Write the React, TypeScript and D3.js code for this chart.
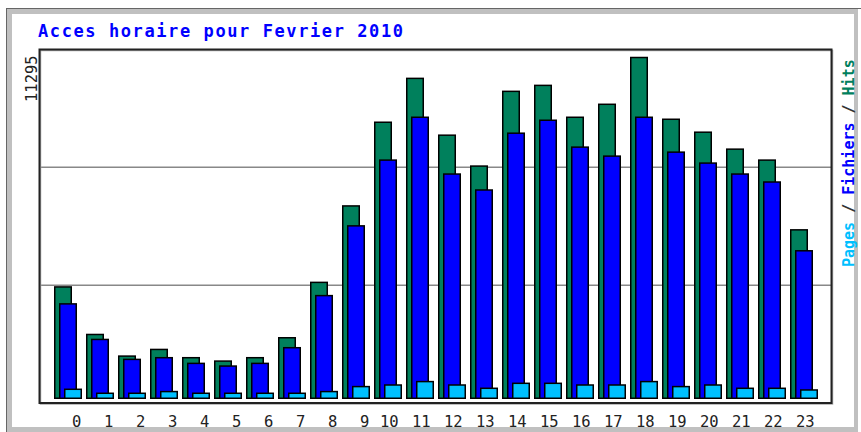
import React from "react";
import { scaleBand, scaleLinear } from "d3";

const hours = Array.from({ length: 24 }, (_, i) => String(i));

// values
const hits = [
  3690, 2114, 1397, 1618, 1344, 1232, 1344, 2005, 3841, 6375, 9149, 10603,
  8720, 7696, 10173, 10371, 9314, 9744, 11295, 9248, 8819, 8257, 7894, 5582,
];
const fichiers = [
  3128, 1949, 1288, 1344, 1156, 1067, 1156, 1675, 3402, 5714, 7894, 9314,
  7432, 6903, 8786, 9215, 8324, 8026, 9314, 8158, 7795, 7432, 7168, 4888,
];
const pages = [
  297, 165, 165, 221, 165, 165, 165, 165, 221, 386, 439, 552,
  439, 330, 495, 495, 439, 439, 552, 386, 439, 330, 330, 274,
];
const maxLabel = "11295";
const title = "Acces horaire pour Fevrier 2010";

const colors = { hits: "#00805c", fichiers: "#0000ff", pages: "#00c0ff" };
const mono = "'DejaVu Sans Mono', monospace";

const App = () => {
  const width = 861;
  const height = 432;
  const plot = { left: 39.5, top: 49.5, right: 831.5, bottom: 403 };

  const x = scaleBand().domain(hours).range([54, 54 + 32 * 24]);
  const y = scaleLinear().domain([0, 11295]).range([398.25, 57.5]);

  const barW = 16.5;
  const series = [
    { key: "hits", data: hits, off: 0 },
    { key: "fichiers", data: fichiers, off: 5 },
    { key: "pages", data: pages, off: 10 },
  ];

  const grid = [1, 2].map((k) => plot.top + ((plot.bottom - plot.top) * k) / 3);

  return (
    <div style={{ position: "fixed", left: 0, top: 0 }}>
      <svg width={width} height={height} style={{ display: "block" }}>
        <rect x={0} y={0} width={width} height={height} fill="#fff" />
        {/* outer frame */}
        <rect x={9} y={11} width={846} height={418} fill="none" stroke="#c0c0c0" stroke-width="6" />
        <line x1={6} y1={8.5} x2={861} y2={8.5} stroke="#666" />
        <line x1={6.5} y1={8} x2={6.5} y2={432} stroke="#666" />
        <rect x={12} y={14} width={842} height={413} fill="#fff" />

        <text x={38} y={37} fill="#0000ff" font-family={mono} font-weight="bold" font-size="17"
          textLength={365} lengthAdjust="spacing">{title}</text>

        {/* grid */}
        {grid.map((g, i) => (
          <line key={i} x1={plot.left} x2={plot.right} y1={g} y2={g} stroke="#888" stroke-width="1.5" />
        ))}

        {/* bars */}
        {series.map((s) => (
          <g key={s.key} fill={colors[s.key]} stroke="#000" stroke-width="1.5">
            {s.data.map((v, i) => (
              <rect key={i} x={(x(hours[i]) as number) + s.off + 0.75} y={y(v)}
                width={barW} height={y(0) - y(v)} />
            ))}
          </g>
        ))}

        {/* plot frame */}
        <rect x={plot.left + 1} y={plot.top + 1} width={plot.right - plot.left} height={plot.bottom - plot.top}
          fill="none" stroke="#aaa" stroke-width="1.5" />
        <rect x={plot.left} y={plot.top} width={plot.right - plot.left} height={plot.bottom - plot.top}
          fill="none" stroke="#222" stroke-width="2" />

        {/* hour labels */}
        {hours.map((h, i) => (
          <text key={h} x={(x(h) as number) + 18 - (i >= 10 ? 12 : 0)} y={426.5}
            font-family={mono} font-size="15.5" fill="#222">{h}</text>
        ))}

        {/* max label */}
        <text transform="translate(36.5,102) rotate(-90)" font-family={mono} font-size="15.5" fill="#222">
          {maxLabel}
        </text>

        {/* legend */}
        <text transform="translate(854,267) rotate(-90)" font-family={mono} font-size="15" font-weight="bold">
          <tspan fill={colors.pages}>Pages</tspan>
          <tspan fill="#333"> / </tspan>
          <tspan fill={colors.fichiers}>Fichiers</tspan>
          <tspan fill="#333"> / </tspan>
          <tspan fill={colors.hits}>Hits</tspan>
        </text>
      </svg>
    </div>
  );
};

export default App;
